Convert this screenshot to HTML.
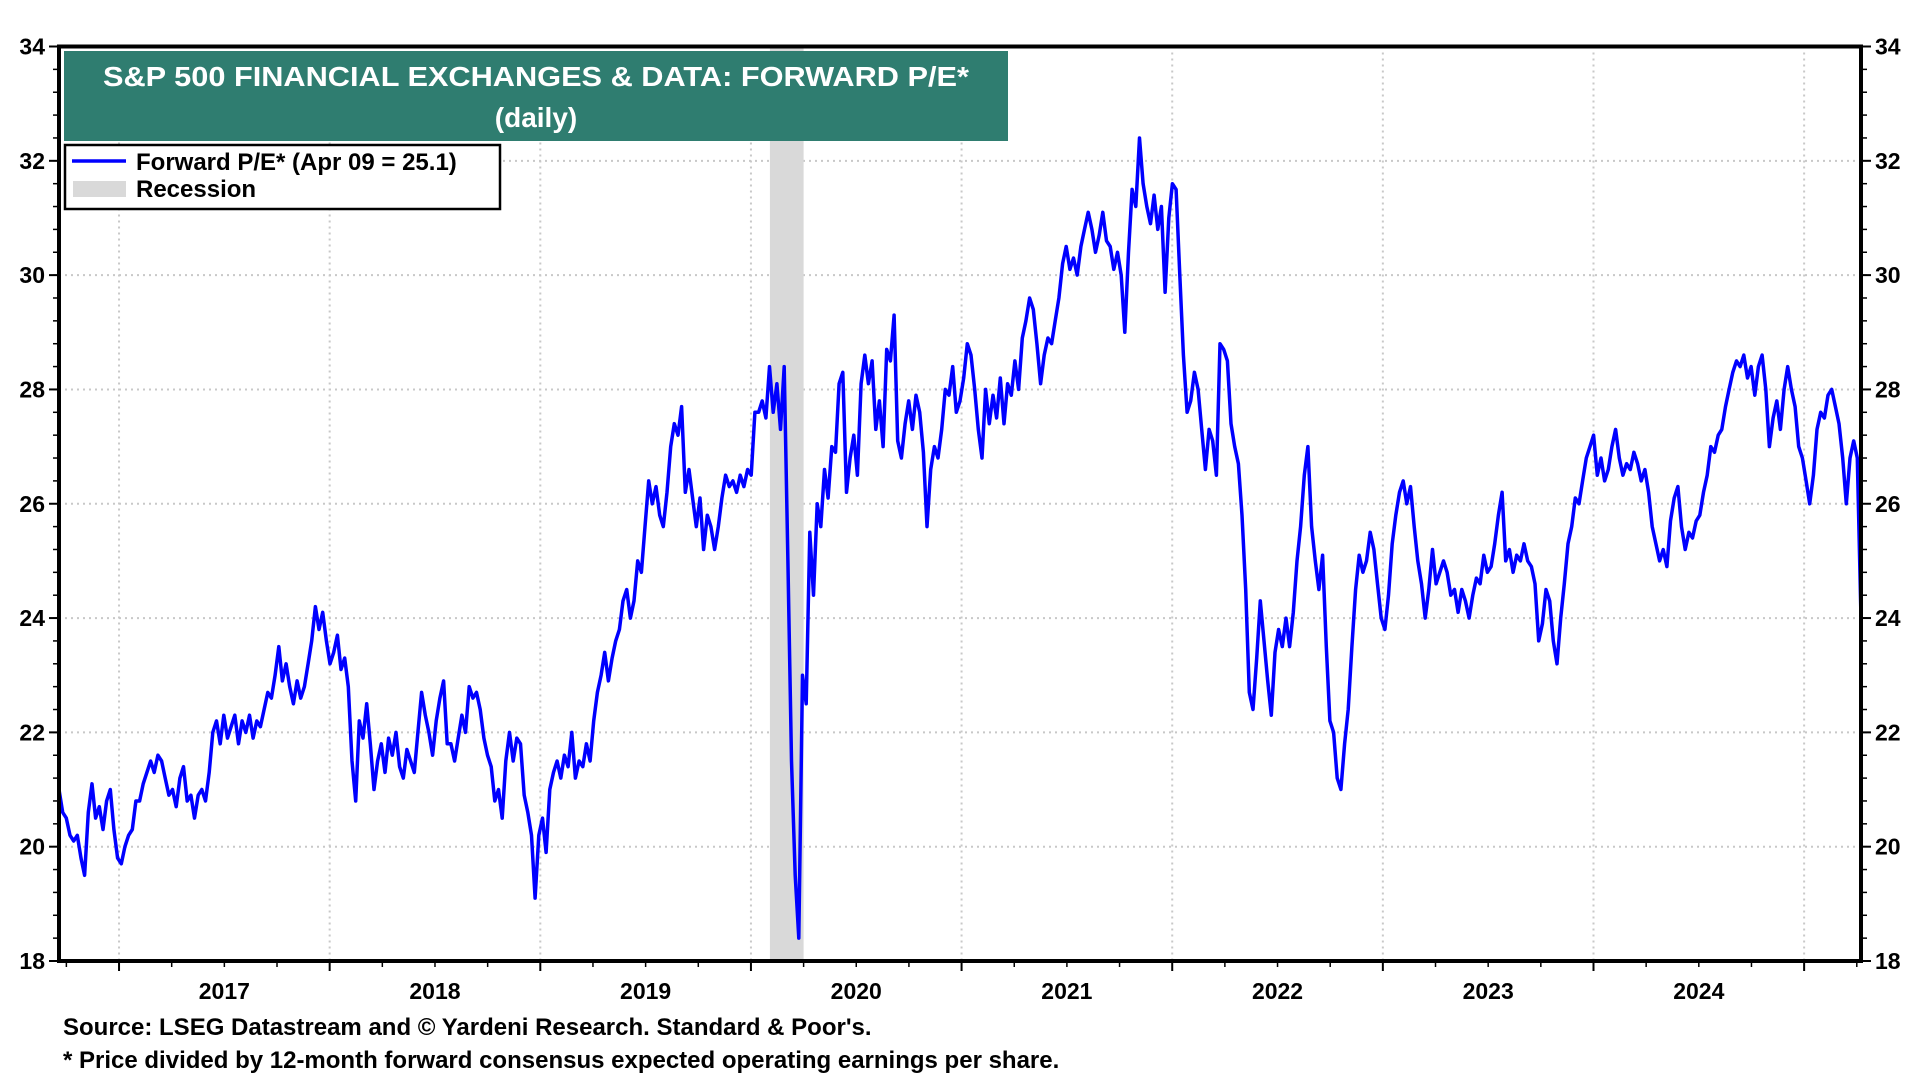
<!DOCTYPE html>
<html><head><meta charset="utf-8"><style>
html,body{margin:0;padding:0;background:#fff;}
svg{display:block;font-family:"Liberation Sans",Arial,sans-serif;font-weight:bold;}
</style></head><body>
<svg id="chart" width="1920" height="1080" viewBox="0 0 1920 1080" xmlns="http://www.w3.org/2000/svg">
<g id="grid"></g>
<g id="recess"></g>
<g id="series"></g>
<rect x="59" y="46.5" width="1802" height="914.5" fill="none" stroke="#000" stroke-width="4"/>
<g id="axes"></g>
<rect x="64" y="51" width="944" height="90" fill="#2f7d70"/>
<text x="536" y="86" fill="#fff" font-size="28" text-anchor="middle" textLength="866" lengthAdjust="spacingAndGlyphs">S&amp;P 500 FINANCIAL EXCHANGES &amp; DATA: FORWARD P/E*</text>
<text x="536" y="127" fill="#fff" font-size="28" text-anchor="middle">(daily)</text>
<g>
<rect x="65" y="145" width="435" height="64" fill="#fff" stroke="#000" stroke-width="2.5"/>
<line x1="72" y1="161" x2="126" y2="161" stroke="#0000ff" stroke-width="3.5"/>
<text x="136" y="170" font-size="24">Forward P/E* (Apr 09 = 25.1)</text>
<rect x="73" y="181" width="53" height="16" fill="#d9d9d9"/>
<text x="136" y="197" font-size="24">Recession</text>
</g>
<text x="63" y="1035" font-size="24">Source: LSEG Datastream and © Yardeni Research. Standard &amp; Poor's.</text>
<text x="63" y="1068" font-size="24">* Price divided by 12-month forward consensus expected operating earnings per share.</text>
</svg>
<script>
const startYear = 2016.715;
const endYear = 2025.27;
const yearLabels = ["2017","2018","2019","2020","2021","2022","2023","2024"];
const yTicks = [18,20,22,24,26,28,30,32,34];
const recessionStart = [2020.09];
const recessionEnd = [2020.25];
const peValues = [
21.0,20.6,20.5,20.2,20.1,20.2,19.8,19.5,20.6,21.1,20.5,20.7,20.3,20.8,21.0,20.3,19.8,19.7,20.0,20.2,20.3,20.8,20.8,21.1,21.3,21.5,21.3,21.6,21.5,21.2,20.9,21.0,20.7,21.2,21.4,20.8,20.9,20.5,20.9,21.0,20.8,21.3,22.0,22.2,21.8,22.3,21.9,22.1,22.3,21.8,22.2,22.0,22.3,21.9,22.2,22.1,22.4,22.7,22.6,23.0,23.5,22.9,23.2,22.8,22.5,22.9,22.6,22.8,23.2,23.6,24.2,23.8,24.1,23.6,23.2,23.4,23.7,23.1,23.3,22.8,21.5,20.8,22.2,21.9,22.5,21.8,21.0,21.5,21.8,21.3,21.9,21.6,22.0,21.4,21.2,21.7,21.5,21.3,22.0,22.7,22.3,22.0,21.6,22.2,22.6,22.9,21.8,21.8,21.5,21.9,22.3,22.0,22.8,22.6,22.7,22.4,21.9,21.6,21.4,20.8,21.0,20.5,21.5,22.0,21.5,21.9,21.8,20.9,20.6,20.2,19.1,20.2,20.5,19.9,21.0,21.3,21.5,21.2,21.6,21.4,22.0,21.2,21.5,21.4,21.8,21.5,22.2,22.7,23.0,23.4,22.9,23.3,23.6,23.8,24.3,24.5,24.0,24.3,25.0,24.8,25.6,26.4,26.0,26.3,25.8,25.6,26.2,27.0,27.4,27.2,27.7,26.2,26.6,26.1,25.6,26.1,25.2,25.8,25.6,25.2,25.6,26.1,26.5,26.3,26.4,26.2,26.5,26.3,26.6,26.5,27.6,27.6,27.8,27.5,28.4,27.6,28.1,27.3,28.4,25.0,21.5,19.5,18.4,23.0,22.5,25.5,24.4,26.0,25.6,26.6,26.1,27.0,26.9,28.1,28.3,26.2,26.8,27.2,26.5,28.1,28.6,28.1,28.5,27.3,27.8,27.0,28.7,28.5,29.3,27.1,26.8,27.4,27.8,27.3,27.9,27.6,26.9,25.6,26.6,27.0,26.8,27.3,28.0,27.9,28.4,27.6,27.8,28.2,28.8,28.6,28.0,27.3,26.8,28.0,27.4,27.9,27.5,28.2,27.4,28.1,27.9,28.5,28.0,28.9,29.2,29.6,29.4,28.8,28.1,28.6,28.9,28.8,29.2,29.6,30.2,30.5,30.1,30.3,30.0,30.5,30.8,31.1,30.8,30.4,30.7,31.1,30.6,30.5,30.1,30.4,30.0,29.0,30.4,31.5,31.2,32.4,31.6,31.2,30.9,31.4,30.8,31.2,29.7,31.0,31.6,31.5,30.0,28.6,27.6,27.8,28.3,28.0,27.3,26.6,27.3,27.1,26.5,28.8,28.7,28.5,27.4,27.0,26.7,25.8,24.5,22.7,22.4,23.3,24.3,23.6,22.9,22.3,23.4,23.8,23.5,24.0,23.5,24.1,25.0,25.6,26.5,27.0,25.6,25.0,24.5,25.1,23.5,22.2,22.0,21.2,21.0,21.8,22.4,23.5,24.5,25.1,24.8,25.0,25.5,25.2,24.6,24.0,23.8,24.4,25.3,25.8,26.2,26.4,26.0,26.3,25.6,25.0,24.6,24.0,24.5,25.2,24.6,24.8,25.0,24.8,24.4,24.5,24.1,24.5,24.3,24.0,24.4,24.7,24.6,25.1,24.8,24.9,25.3,25.8,26.2,25.0,25.2,24.8,25.1,25.0,25.3,25.0,24.9,24.6,23.6,23.9,24.5,24.3,23.6,23.2,24.0,24.6,25.3,25.6,26.1,26.0,26.4,26.8,27.0,27.2,26.5,26.8,26.4,26.6,27.0,27.3,26.8,26.5,26.7,26.6,26.9,26.7,26.4,26.6,26.2,25.6,25.3,25.0,25.2,24.9,25.7,26.1,26.3,25.6,25.2,25.5,25.4,25.7,25.8,26.2,26.5,27.0,26.9,27.2,27.3,27.7,28.0,28.3,28.5,28.4,28.6,28.2,28.4,27.9,28.4,28.6,28.0,27.0,27.5,27.8,27.3,28.0,28.4,28.0,27.7,27.0,26.8,26.4,26.0,26.5,27.3,27.6,27.5,27.9,28.0,27.7,27.4,26.8,26.0,26.8,27.1,26.8,24.0
];

const NS = "http://www.w3.org/2000/svg";
const L = 59, R = 1861, T = 46.5, B = 961;
function xs(t){ return L + (t - startYear) / (endYear - startYear) * (R - L); }
function ys(v){ return B - (v - 18) / (34 - 18) * (B - T); }
function mk(tag, attrs, parent){
  const e = document.createElementNS(NS, tag);
  for (const k in attrs) e.setAttribute(k, attrs[k]);
  parent.appendChild(e); return e;
}
const grid = document.getElementById('grid');
const axes = document.getElementById('axes');
yTicks.forEach(v => {
  const y = ys(v);
  if (v > 18 && v < 34) {
    const g = mk('line', {x1:L, x2:R, y1:y, y2:y, stroke:'#c8c8c8', 'stroke-width':2, 'stroke-dasharray':'2,4'}, grid);
    
    
  }
  mk('line', {x1:L-10, x2:L, y1:y, y2:y, stroke:'#000', 'stroke-width':2}, axes);
  mk('line', {x1:R, x2:R+10, y1:y, y2:y, stroke:'#000', 'stroke-width':2}, axes);
  const tl = mk('text', {x:L-14, y:y+8, 'font-size':23, 'text-anchor':'end'}, axes);
  tl.textContent = v;
  
  
  const tr = mk('text', {x:R+14, y:y+8, 'font-size':23}, axes);
  tr.textContent = v;
  
  
});
for (let v = 18; v <= 34.001; v += 0.4) {
  const y = ys(v);
  mk('line', {x1:L-6, x2:L, y1:y, y2:y, stroke:'#000', 'stroke-width':1.5}, axes);
  mk('line', {x1:R, x2:R+6, y1:y, y2:y, stroke:'#000', 'stroke-width':1.5}, axes);
}
yearLabels.forEach((lab, i) => {
  const yr = parseInt(lab);
  const x = xs(yr);
  const g = mk('line', {x1:x, x2:x, y1:T, y2:B, stroke:'#c8c8c8', 'stroke-width':2, 'stroke-dasharray':'2,4'}, grid);
  
  
  const t = mk('text', {x:xs(yr + 0.5), y:999, 'font-size':23, 'text-anchor':'middle'}, axes);
  t.textContent = lab;
  
  
});
const lastYear = parseInt(yearLabels[yearLabels.length-1]) + 1;
{
  const x = xs(lastYear);
  const g = mk('line', {x1:x, x2:x, y1:T, y2:B, stroke:'#c8c8c8', 'stroke-width':2, 'stroke-dasharray':'2,4'}, grid);
  
  
}
for (let q = Math.ceil(startYear*4); q/4 <= endYear; q++) {
  const t = q/4, x = xs(t);
  const major = q % 4 === 0;
  mk('line', {x1:x, x2:x, y1:B, y2:B + (major ? 10 : 6), stroke:'#000', 'stroke-width':major?2:1.5}, axes);
}
const rg = document.getElementById('recess');
recessionStart.forEach((s, i) => {
  const r = mk('rect', {x:xs(s), y:T, width:xs(recessionEnd[i]) - xs(s), height:B - T, fill:'#d9d9d9'}, rg);
  
  
});
const n = peValues.length;
let d = '';
peValues.forEach((v, i) => {
  const t = startYear + i * (endYear - startYear) / (n - 1);
  d += (i ? 'L' : 'M') + xs(t).toFixed(1) + ',' + ys(v).toFixed(1);
});
const p = mk('path', {d:d, fill:'none', stroke:'#0000ff', 'stroke-width':3.5, 'stroke-linejoin':'round'}, document.getElementById('series'));


</script>
</body></html>
